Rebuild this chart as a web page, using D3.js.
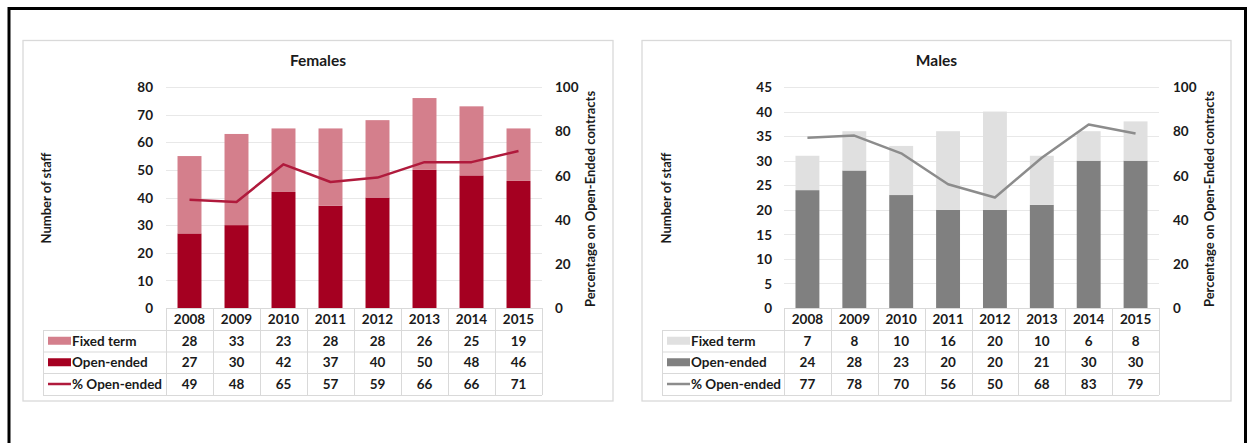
<!DOCTYPE html>
<html>
<head>
<meta charset="utf-8">
<script src="https://cdn.jsdelivr.net/npm/d3@7"></script>
<style>
  html, body { margin: 0; padding: 0; background: #fff; }
  svg { display: block; }
  text { font-family: Lato, "Open Sans", sans-serif; fill: #1a1a1a; }
</style>
</head>
<body>
<svg id="chart" width="1249" height="443"></svg>
<script>
// Staff counts by contract type and share of open-ended contracts, 2008-2015
const years = ["2008", "2009", "2010", "2011", "2012", "2013", "2014", "2015"];

const femaleFixed = [28, 33, 23, 28, 28, 26, 25, 19];
const femaleOpen  = [27, 30, 42, 37, 40, 50, 48, 46];
const femalePct   = [49, 48, 65, 57, 59, 66, 66, 71];

const maleFixed = [7, 8, 10, 16, 20, 10, 6, 8];
const maleOpen  = [24, 28, 23, 20, 20, 21, 30, 30];
const malePct   = [77, 78, 70, 56, 50, 68, 83, 79];

const femaleTicks = [0, 10, 20, 30, 40, 50, 60, 70, 80];
const maleTicks   = [0, 5, 10, 15, 20, 25, 30, 35, 40, 45];
const pctTicks    = [0, 20, 40, 60, 80, 100];

const rowLabels = ["Fixed term", "Open-ended", "% Open-ended"];

const svg = d3.select("#chart");
const FS = "13.5px";

// outer frame
svg.append("rect")
  .attr("x", 9).attr("y", 8.5)
  .attr("width", 1236.5).attr("height", 460)
  .attr("fill", "none").attr("stroke", "#000").attr("stroke-width", 3);

function drawPanel(cfg) {
  const g = svg.append("g");

  // panel frame
  g.append("rect")
    .attr("x", cfg.panel[0]).attr("y", 40.5)
    .attr("width", cfg.panel[1] - cfg.panel[0]).attr("height", 360.5)
    .attr("fill", "#fff").attr("stroke", "#d9d9d9").attr("stroke-width", 1.3);

  const x = d3.scaleBand().domain(years).range([cfg.plot[0], cfg.plot[1]]).paddingInner(0).paddingOuter(0);
  const y = d3.scaleLinear().domain([0, cfg.ticks[cfg.ticks.length - 1]]).range([308, 87]);
  const yPct = d3.scaleLinear().domain([0, 100]).range([308, 87]);

  // title
  g.append("text")
    .attr("x", (cfg.panel[0] + cfg.panel[1]) / 2).attr("y", 66)
    .attr("text-anchor", "middle")
    .style("font-size", "15.5px").style("font-weight", 700)
    .text(cfg.title);

  // gridlines
  g.append("g").selectAll("line").data(cfg.ticks.filter(d => d > 0)).join("line")
    .attr("x1", cfg.plot[0]).attr("x2", cfg.plot[1])
    .attr("y1", d => Math.round(y(d)) + 0.5).attr("y2", d => Math.round(y(d)) + 0.5)
    .attr("stroke", "#e8e8e8").attr("stroke-width", 1);

  // left axis
  const leftAxis = d3.axisLeft(y).tickValues(cfg.ticks).tickSize(0).tickPadding(0);
  const la = g.append("g").attr("transform", `translate(${cfg.leftLabelX},0)`).call(leftAxis);
  la.select(".domain").remove();
  la.selectAll("text").style("font-size", FS).style("font-weight", 700).attr("fill", "#1a1a1a").attr("dy", "0.35em");

  // right axis
  const rightAxis = d3.axisRight(yPct).tickValues(pctTicks).tickSize(0).tickPadding(0);
  const ra = g.append("g").attr("transform", `translate(${cfg.rightLabelX},0)`).call(rightAxis);
  ra.select(".domain").remove();
  ra.selectAll("text").style("font-size", FS).style("font-weight", 700).attr("fill", "#1a1a1a").attr("dy", "0.35em");

  // axis titles
  g.append("text")
    .attr("transform", `translate(${cfg.leftTitleX},198) rotate(-90)`)
    .attr("text-anchor", "middle")
    .style("font-size", "13px").style("font-weight", 700)
    .text("Number of staff");
  g.append("text")
    .attr("transform", `translate(${cfg.rightTitleX},199) rotate(-90)`)
    .attr("text-anchor", "middle")
    .style("font-size", "13px").style("font-weight", 700)
    .text("Percentage on Open-Ended contracts");

  // stacked bars
  const bw = x.bandwidth() * 0.51;
  const stack = years.map((yr, i) => ({ yr, open: cfg.open[i], fixed: cfg.fixed[i] }));
  g.append("g").selectAll("rect").data(stack).join("rect")
    .attr("x", d => x(d.yr) + (x.bandwidth() - bw) / 2)
    .attr("width", bw)
    .attr("y", d => y(d.open))
    .attr("height", d => y(0) - y(d.open))
    .attr("fill", cfg.colors.open);
  g.append("g").selectAll("rect").data(stack).join("rect")
    .attr("x", d => x(d.yr) + (x.bandwidth() - bw) / 2)
    .attr("width", bw)
    .attr("y", d => y(d.open + d.fixed))
    .attr("height", d => y(d.open) - y(d.open + d.fixed))
    .attr("fill", cfg.colors.fixed);

  // percentage line
  const line = d3.line()
    .x((d, i) => x(years[i]) + x.bandwidth() / 2)
    .y(d => yPct(d));
  g.append("path")
    .datum(cfg.pct)
    .attr("d", line)
    .attr("fill", "none")
    .attr("stroke", cfg.colors.line)
    .attr("stroke-width", 2.5)
    .attr("stroke-linejoin", "round");

  // data table beneath the plot
  const rowTops = [308, 330, 351.5, 373, 395];
  const tbl = g.append("g");
  const lineColor = "#d9d9d9";
  // horizontal rules
  tbl.append("line").attr("x1", cfg.plot[0]).attr("x2", cfg.plot[1])
    .attr("y1", rowTops[0] + 0.5).attr("y2", rowTops[0] + 0.5)
    .attr("stroke", lineColor);
  rowTops.slice(1).forEach(t => {
    tbl.append("line").attr("x1", cfg.tableLeft).attr("x2", cfg.plot[1])
      .attr("y1", t + 0.5).attr("y2", t + 0.5).attr("stroke", lineColor);
  });
  // vertical rules
  const vx = years.map(yr => x(yr)).concat([cfg.plot[1]]);
  tbl.selectAll("line.v").data(vx).join("line").attr("class", "v")
    .attr("x1", d => Math.round(d) + 0.5).attr("x2", d => Math.round(d) + 0.5)
    .attr("y1", rowTops[0]).attr("y2", rowTops[4])
    .attr("stroke", lineColor);
  tbl.append("line")
    .attr("x1", cfg.tableLeft + 0.5).attr("x2", cfg.tableLeft + 0.5)
    .attr("y1", rowTops[1]).attr("y2", rowTops[4]).attr("stroke", lineColor);

  // year headers
  tbl.selectAll("text.yr").data(years).join("text").attr("class", "yr")
    .attr("x", d => x(d) + x.bandwidth() / 2)
    .attr("y", (rowTops[0] + rowTops[1]) / 2)
    .attr("dy", "0.36em").attr("text-anchor", "middle")
    .style("font-size", FS).style("font-weight", 700)
    .text(d => d);

  const rows = [cfg.fixed, cfg.open, cfg.pct];
  rows.forEach((vals, r) => {
    const cy = (rowTops[r + 1] + rowTops[r + 2]) / 2;
    tbl.selectAll(`text.r${r}`).data(vals).join("text").attr("class", `r${r}`)
      .attr("x", (d, i) => x(years[i]) + x.bandwidth() / 2)
      .attr("y", cy).attr("dy", "0.36em").attr("text-anchor", "middle")
      .style("font-size", FS).style("font-weight", 700)
      .text(d => d);
    // legend key
    const kx = cfg.tableLeft + 5;
    if (r < 2) {
      tbl.append("rect").attr("x", kx).attr("y", cy - 4).attr("width", 23).attr("height", 8)
        .attr("fill", r === 0 ? cfg.colors.fixed : cfg.colors.open);
    } else {
      tbl.append("line").attr("x1", kx).attr("x2", kx + 23).attr("y1", cy).attr("y2", cy)
        .attr("stroke", cfg.colors.line).attr("stroke-width", 2.5);
    }
    tbl.append("text").attr("x", kx + 24).attr("y", cy).attr("dy", "0.36em")
      .style("font-size", FS).style("font-weight", 700)
      .text(rowLabels[r]);
  });
}

drawPanel({
  title: "Females",
  panel: [23, 613],
  plot: [166, 542],
  leftLabelX: 153,
  rightLabelX: 555,
  leftTitleX: 51,
  rightTitleX: 595,
  tableLeft: 43,
  ticks: femaleTicks,
  fixed: femaleFixed,
  open: femaleOpen,
  pct: femalePct,
  colors: { fixed: "#d47f8c", open: "#a50021", line: "#b01a3c" }
});

drawPanel({
  title: "Males",
  panel: [642, 1231],
  plot: [784, 1159],
  leftLabelX: 772,
  rightLabelX: 1173,
  leftTitleX: 671,
  rightTitleX: 1214,
  tableLeft: 662,
  ticks: maleTicks,
  fixed: maleFixed,
  open: maleOpen,
  pct: malePct,
  colors: { fixed: "#e0e0e0", open: "#808080", line: "#8c8c8c" }
});
</script>
</body>
</html>
